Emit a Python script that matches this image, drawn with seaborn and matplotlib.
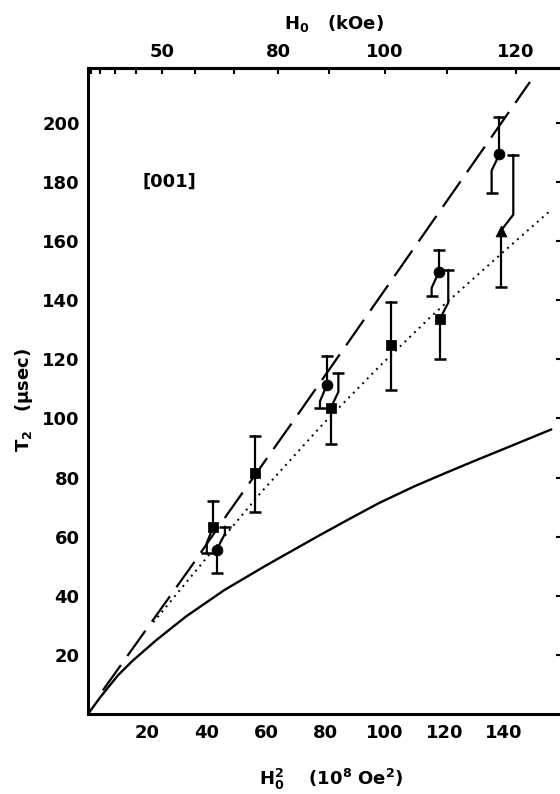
import numpy as np
import pandas as pd
import matplotlib
matplotlib.use("Agg")
import matplotlib.pyplot as plt
import seaborn as sns

# ---- data ----
# theory curves: T2 vs H0^2 (10^8 Oe^2)
dash_x = [5, 35.5, 46.7, 68.6, 110, 148.8]
dash_y = [8, 51, 67.3, 98.4, 158, 213.9]
dot_x = [22, 31, 45, 58, 79, 98, 116, 140, 155.6]
dot_y = [31, 42, 59, 74.7, 98, 117.5, 135, 156.5, 170.3]
solid_x = [0, 4, 10, 15, 23, 33, 46, 60, 78, 88, 98, 110, 120, 130, 140, 148, 156]
solid_y = [0, 5.5, 13, 18, 25, 33, 42, 50.3, 60.5, 66, 71.4, 77.1, 81.4, 85.6, 89.7, 93, 96.3]

# measured points with error bars
sq_x = [42.2, 56.2, 81.7, 101.9, 118.5]
sq_y = [63.4, 81.5, 103.5, 125.0, 133.7]
sq_lo = [54.4, 68.5, 91.3, 109.5, 120.3]
sq_hi = [72.2, 94.2, 115.3, 139.3, 150.3]
sq_kink = ['lo', None, 'hi', None, 'hi']

ci_x = [43.3, 80.4, 118.2, 138.5]
ci_y = [55.5, 111.3, 149.7, 189.4]
ci_lo = [47.6, 103.5, 141.5, 176.2]
ci_hi = [63.4, 121.3, 157.0, 202.1]
ci_kink = ['hi', 'lo', 'lo', 'lo']

tr_x = [139.0]
tr_y = [163.5]
tr_lo = [144.4]
tr_hi = [189.2]
tr_kink = ['hi']

bottom_ticks = [20, 40, 60, 80, 100, 120, 140]
left_ticks = [20, 40, 60, 80, 100, 120, 140, 160, 180, 200]
top_major = [50, 80, 100, 120]
top_minor = [10, 20, 30, 40, 60, 70, 90, 110]

# sideways shift of the offset (kinked) error bar halves, in x units
kink_dx = {'sq': [-2.2, 0, 2.6, 0, 2.8], 'ci': [2.8, -2.3, -2.5, -2.6], 'tr': [4.2]}
KINK_RISE = 5.5

sns.set_style("white")
plt.rcParams['font.family'] = ['DejaVu Sans']
plt.rcParams['font.weight'] = 'bold'
plt.rcParams['text.color'] = 'black'
plt.rcParams['xtick.color'] = 'black'
plt.rcParams['ytick.color'] = 'black'
plt.rcParams['mathtext.fontset'] = 'custom'
plt.rcParams['mathtext.rm'] = 'DejaVu Sans:bold'
plt.rcParams['mathtext.it'] = 'DejaVu Sans:italic:bold'
plt.rcParams['mathtext.default'] = 'rm'

fig = plt.figure(figsize=(5.6, 7.94), dpi=100)
ax = fig.add_axes([88 / 560, 80 / 794, 474 / 560, 646 / 794])

curves = pd.concat([
    pd.DataFrame({'x': dash_x, 'y': dash_y, 'kind': 'dash'}),
    pd.DataFrame({'x': dot_x, 'y': dot_y, 'kind': 'dot'}),
    pd.DataFrame({'x': solid_x, 'y': solid_y, 'kind': 'solid'}),
])
sns.lineplot(data=curves[curves.kind == 'dash'], x='x', y='y', color='black', lw=1.6,
             sort=False, estimator=None, ax=ax).lines[-1].set_dashes([14, 5])
sns.lineplot(data=curves[curves.kind == 'dot'], x='x', y='y', color='black', lw=1.4,
             sort=False, estimator=None, ax=ax, linestyle=(0, (1, 2.4)))
sns.lineplot(data=curves[curves.kind == 'solid'], x='x', y='y', color='black', lw=1.7,
             sort=False, estimator=None, ax=ax)


def draw_bars(xs, ys, los, his, kinks, dxs):
    for x, y, lo, hi, k, dx in zip(xs, ys, los, his, kinks, dxs):
        for side, end in (('lo', lo), ('hi', hi)):
            if k == side:
                sgn = 1 if side == 'hi' else -1
                xk = x + dx
                ax.plot([x, xk, xk], [y, y + sgn * KINK_RISE, end], color='black', lw=1.6)
                ax.plot([xk], [end], marker='_', ms=8.5, mew=1.8, color='black')
            else:
                ax.plot([x, x], [y, end], color='black', lw=1.6)
                ax.plot([x], [end], marker='_', ms=8.5, mew=1.8, color='black')


draw_bars(sq_x, sq_y, sq_lo, sq_hi, sq_kink, kink_dx['sq'])
draw_bars(ci_x, ci_y, ci_lo, ci_hi, ci_kink, kink_dx['ci'])
draw_bars(tr_x, tr_y, tr_lo, tr_hi, tr_kink, kink_dx['tr'])

sns.scatterplot(x=sq_x, y=sq_y, marker='s', s=45, color='black', edgecolor='black', ax=ax, zorder=5)
sns.scatterplot(x=ci_x, y=ci_y, marker='o', s=60, color='black', edgecolor='black', ax=ax, zorder=5)
sns.scatterplot(x=tr_x, y=tr_y, marker='^', s=60, color='black', edgecolor='black', ax=ax, zorder=5)

ax.set_xlim(0, 474 / 2.97)
ax.set_ylim(0, 646 / 2.955)
ax.set_xlabel('')
ax.set_ylabel('')

for sp in ax.spines.values():
    sp.set_linewidth(2.2)
    sp.set_color('black')

ax.set_xticks(bottom_ticks)
ax.set_yticks(left_ticks)
ax.tick_params(axis='x', direction='in', length=4, width=1.5, pad=7, labelsize=13)
ax.tick_params(axis='y', direction='out', length=4, width=1.5, pad=2, labelsize=13)

# top axis in H0 (kOe)
top = ax.secondary_xaxis('top', functions=(lambda v: 10 * np.sqrt(np.clip(v, 0, None)),
                                            lambda h: (np.asarray(h) / 10) ** 2))
top.set_xticks(top_major)
top.set_xticks(top_minor, minor=True)
top.tick_params(which='both', direction='in', length=4, width=1.5, pad=5, labelsize=13)
top.spines['top'].set_linewidth(2.2)

# right axis, ticks only
right = ax.secondary_yaxis('right')
right.set_yticks(left_ticks)
right.tick_params(direction='in', length=4, width=1.5, labelright=False)

ax.text(27.3, 180, '[001]', ha='center', va='center', fontsize=13)

fig.text(24 / 560, 1 - 400 / 794, r'T$_2$   ($\mu$sec)', rotation=90,
         ha='center', va='center', fontsize=13)
fig.text(334 / 560, 1 - 24 / 794, r'H$_0$   (kOe)', ha='center', va='center', fontsize=13)
fig.text(331 / 560, 1 - 779 / 794, r'H$_0^2$    (10$^8$ Oe$^2$)', ha='center', va='center',
         fontsize=13)

fig.savefig('out.png', dpi=100)
